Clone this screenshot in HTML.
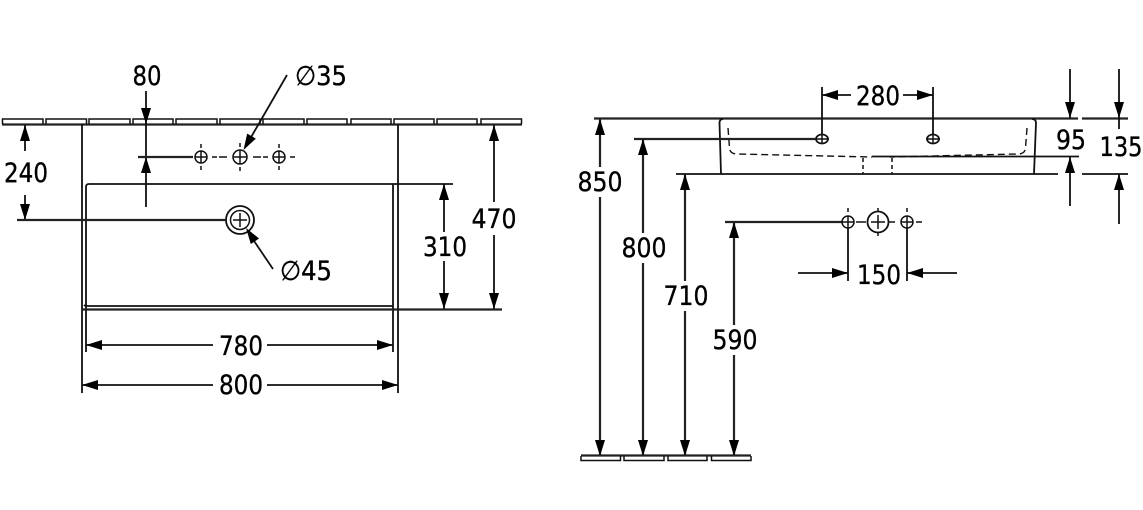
<!DOCTYPE html>
<html><head><meta charset="utf-8"><style>
html,body{margin:0;padding:0;background:#fff}
svg{display:block}
text{font-family:"DejaVu Sans",sans-serif;font-size:27px;fill:#000;stroke:#000;stroke-width:.35;text-anchor:middle}
.l{stroke:#111;stroke-width:1.8;fill:none}
.t{stroke:#111;stroke-width:1.5;fill:none}
.k{stroke:#222;stroke-width:2.2;fill:none}
.d{stroke:#111;stroke-width:1.4;fill:none;stroke-dasharray:7 4}
</style></head><body>
<svg width="1143" height="510" viewBox="0 0 1143 510" xmlns="http://www.w3.org/2000/svg">
<defs>
<path id="a" d="M0 0L-5 16L5 16Z" fill="#000"/>
<g id="c1"><circle r="6" class="t"/><path d="M-6 0H6M0 -6V6M0 -13V-9M0 9V13M-16 0H-11M11 0H16" class="t"/></g>
<g id="c2"><circle r="7" class="t"/><path d="M-7 0H7M0 -7V7M0 -14V-10M0 10V14M-21 0H-13M13 0H21" class="t"/></g>
</defs>

<!-- left wall tiles -->
<path class="k" d="M2 124.500H522"/>
<path class="t" d="M2.500 124V119H43V124M46 124V119H86.500V124M89 124V119H130V124M133 124V119H173V124M176 124V119H217V124M220 124V119H260V124M263 124V119H304V124M307 124V119H347V124M351 124V119H391V124M394 124V119H434V124M437 124V119H477V124M481 124V119H521.500V124"/>

<!-- left basin -->
<path class="l" d="M82 124V393M398 124V393"/>
<path class="l" d="M86 352V187Q86 184 89 184H453"/>
<path class="l" d="M393 352V184"/>
<path class="l" d="M84 305Q85 306 88 306H393"/>
<path class="k" d="M83 309.500H502"/>

<!-- holes -->
<use href="#c1" x="201" y="157"/><use href="#c2" x="240" y="157"/><use href="#c1" x="279" y="157"/>
<circle cx="240" cy="220" r="14" class="l"/><circle cx="240" cy="220" r="9.500" class="t"/>
<path class="t" d="M233 220H247M240 213V227"/>

<!-- 240 -->
<path class="l" d="M25 125V151M25 195V220"/>
<use href="#a" x="25" y="125"/><use href="#a" transform="translate(25 220) rotate(180)"/>
<path class="k" d="M17 220H226"/>
<text x="26" y="182" textLength="44" lengthAdjust="spacingAndGlyphs">240</text>

<!-- 80 -->
<path class="l" d="M146 91V157M146 157V207"/>
<use href="#a" transform="translate(146 124) rotate(180)"/><use href="#a" x="146" y="157"/>
<path class="k" d="M138 157H193"/>
<text x="147" y="85" textLength="29" lengthAdjust="spacingAndGlyphs">80</text>

<!-- dia 35 -->
<path class="l" d="M287 75L250 139"/>
<use href="#a" transform="translate(243.500 150) rotate(210)"/>
<text x="321" y="85" textLength="52" lengthAdjust="spacingAndGlyphs">∅35</text>

<!-- dia 45 -->
<path class="l" d="M273 269L252 238"/>
<use href="#a" transform="translate(246 228) rotate(-34)"/>
<text x="306" y="280" textLength="52" lengthAdjust="spacingAndGlyphs">∅45</text>

<!-- 310 -->
<path class="l" d="M444 184V232M444 261V309"/>
<use href="#a" x="444" y="184"/><use href="#a" transform="translate(444 309) rotate(180)"/>
<text x="445" y="256" textLength="44" lengthAdjust="spacingAndGlyphs">310</text>

<!-- 470 -->
<path class="l" d="M494 125V202M494 235V309"/>
<use href="#a" x="494" y="125"/><use href="#a" transform="translate(494 309) rotate(180)"/>
<text x="494" y="228" textLength="45" lengthAdjust="spacingAndGlyphs">470</text>

<!-- 780 / 800 -->
<path class="l" d="M86 345H213M267 345H393"/>
<use href="#a" transform="translate(86 345) rotate(-90)"/><use href="#a" transform="translate(393 345) rotate(90)"/>
<text x="241" y="355" textLength="44" lengthAdjust="spacingAndGlyphs">780</text>
<path class="l" d="M82 385H213M267 385H398"/>
<use href="#a" transform="translate(82 385) rotate(-90)"/><use href="#a" transform="translate(398 385) rotate(90)"/>
<text x="241" y="394" textLength="44" lengthAdjust="spacingAndGlyphs">800</text>

<!-- right side -->
<path class="k" d="M594 118.500H1078M1082 118.500H1128"/>
<path class="l" d="M676 174H1058M1082 174H1128"/>
<path class="l" d="M721 174L719.500 123Q719.500 119 723 119M1034 174L1036 123Q1036 119 1032 119"/>
<path class="l" d="M872 156.500H1079"/>
<path class="d" d="M728 128L729.500 148Q730 154 737 154L872 157M1027 128L1025.500 148Q1025 154 1018 154L890 157"/>
<path class="t" d="M863 158V174M892 158V174" stroke-dasharray="4 3"/>

<!-- holes right top -->
<ellipse cx="822" cy="139" rx="6" ry="4.500" fill="#fff" stroke="#111" stroke-width="1.800"/><path class="t" d="M815 139H829M822 134V144"/>
<ellipse cx="933" cy="139" rx="6" ry="4.500" fill="#fff" stroke="#111" stroke-width="1.800"/><path class="t" d="M926 139H940M933 134V144"/>
<path class="k" d="M634 139H816"/>

<!-- 280 -->
<path class="l" d="M822 87V134M933 87V134M822 95H851M903 95H933"/>
<use href="#a" transform="translate(822 95) rotate(-90)"/><use href="#a" transform="translate(933 95) rotate(90)"/>
<text x="878" y="105" textLength="44" lengthAdjust="spacingAndGlyphs">280</text>

<!-- 95 -->
<path class="l" d="M1070 69V118M1070 157V206"/>
<use href="#a" transform="translate(1070 118) rotate(180)"/><use href="#a" x="1070" y="157"/>
<text x="1071" y="149" textLength="30" lengthAdjust="spacingAndGlyphs">95</text>

<!-- 135 -->
<path class="l" d="M1119 69V129M1119 174V224"/>
<use href="#a" transform="translate(1119 118) rotate(180)"/><use href="#a" x="1119" y="174"/>
<text x="1121" y="156" textLength="43" lengthAdjust="spacingAndGlyphs">135</text>

<!-- height dims -->
<path class="k" d="M600 119V167M600 197V456"/>
<use href="#a" x="600" y="119"/><use href="#a" transform="translate(600 456) rotate(180)"/>
<text x="600" y="191" textLength="45" lengthAdjust="spacingAndGlyphs">850</text>

<path class="k" d="M643 139V233M643 263V456"/>
<use href="#a" x="643" y="139"/><use href="#a" transform="translate(643 456) rotate(180)"/>
<text x="644" y="257" textLength="45" lengthAdjust="spacingAndGlyphs">800</text>

<path class="k" d="M685 174V281M685 311V456"/>
<use href="#a" x="685" y="174"/><use href="#a" transform="translate(685 456) rotate(180)"/>
<text x="686" y="305" textLength="45" lengthAdjust="spacingAndGlyphs">710</text>

<path class="k" d="M734 222V325M734 355V456"/>
<use href="#a" x="734" y="222"/><use href="#a" transform="translate(734 456) rotate(180)"/>
<text x="735" y="349" textLength="45" lengthAdjust="spacingAndGlyphs">590</text>

<!-- bottom tiles -->
<path class="k" d="M581 455.500H751"/>
<path class="t" d="M581 456V460.500H620.500V456M624 456V460.500H664V456M668 456V460.500H707V456M711.500 456V460.500H751V456"/>

<!-- lower holes -->
<path class="k" d="M725 222H842"/>
<circle cx="848" cy="222" r="6" class="t"/><path class="t" d="M842 222H854M848 216V228M848 208V212"/>
<circle cx="878" cy="222" r="10.500" class="l"/><path class="t" d="M871 222H885M878 215V229M878 208V211M878 233V236M856 222H866M889 222H895"/>
<circle cx="907" cy="222" r="6" class="t"/><path class="t" d="M901 222H913M907 216V228M907 208V212M916 222H922"/>

<!-- 150 -->
<path class="l" d="M848 228V281M907 228V281M798 273H848M907 273H957"/>
<use href="#a" transform="translate(848 273) rotate(90)"/><use href="#a" transform="translate(907 273) rotate(-90)"/>
<text x="879" y="284" textLength="44" lengthAdjust="spacingAndGlyphs">150</text>
</svg>
</body></html>
